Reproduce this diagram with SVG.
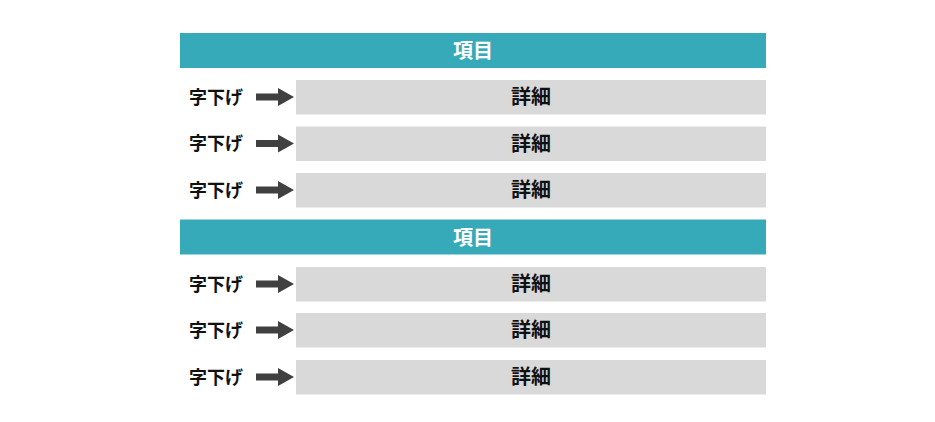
<svg xmlns="http://www.w3.org/2000/svg" width="935" height="422" viewBox="0 0 935 422">
<defs>
<style>
.hd{fill:#37AAB9}
.bx{fill:#D9D9D9}
.ht{font-family:"Noto Sans CJK JP","Noto Sans",sans-serif;font-weight:bold;font-size:20px;fill:#fff;text-anchor:middle;dominant-baseline:central}
.bt{font-family:"Noto Sans CJK JP","Noto Sans",sans-serif;font-weight:bold;font-size:20px;fill:#111;text-anchor:middle;dominant-baseline:central}
.lt{font-family:"Noto Sans CJK JP","Noto Sans",sans-serif;font-weight:bold;font-size:18px;fill:#111;dominant-baseline:central}
.ar{fill:#404040}
</style>
<path id="arrow" class="ar" d="M0,-3.5 H22 V-9 L38,0 L22,9 V3.5 H0 Z"/>
</defs>
<g id="header1"><rect class="hd" x="180" y="33" width="586" height="35"/><text class="ht" x="473" y="49.5">項目</text></g>
<g id="row1"><rect class="bx" x="296" y="80" width="470" height="34.5"/><text class="bt" x="531" y="95.5">詳細</text><text class="lt" x="189" y="95.5">字下げ</text></g>
<g id="row2"><rect class="bx" x="296" y="126.5" width="470" height="34.5"/><text class="bt" x="531" y="142">詳細</text><text class="lt" x="189" y="142">字下げ</text></g>
<g id="row3"><rect class="bx" x="296" y="173" width="470" height="34.5"/><text class="bt" x="531" y="188.5">詳細</text><text class="lt" x="189" y="188.5">字下げ</text></g>
<g id="header2"><rect class="hd" x="180" y="219.5" width="586" height="35"/><text class="ht" x="473" y="236">項目</text></g>
<g id="row4"><rect class="bx" x="296" y="267" width="470" height="34.5"/><text class="bt" x="531" y="282.5">詳細</text><text class="lt" x="189" y="282.5">字下げ</text></g>
<g id="row5"><rect class="bx" x="296" y="313" width="470" height="34.5"/><text class="bt" x="531" y="328.5">詳細</text><text class="lt" x="189" y="328.5">字下げ</text></g>
<g id="row6"><rect class="bx" x="296" y="360" width="470" height="34.5"/><text class="bt" x="531" y="375.5">詳細</text><text class="lt" x="189" y="375.5">字下げ</text></g>
<g id="connectors">
<use href="#arrow" x="256" y="97"/>
<use href="#arrow" x="256" y="143.5"/>
<use href="#arrow" x="256" y="190"/>
<use href="#arrow" x="256" y="284"/>
<use href="#arrow" x="256" y="330"/>
<use href="#arrow" x="256" y="377"/>
</g>
</svg>
